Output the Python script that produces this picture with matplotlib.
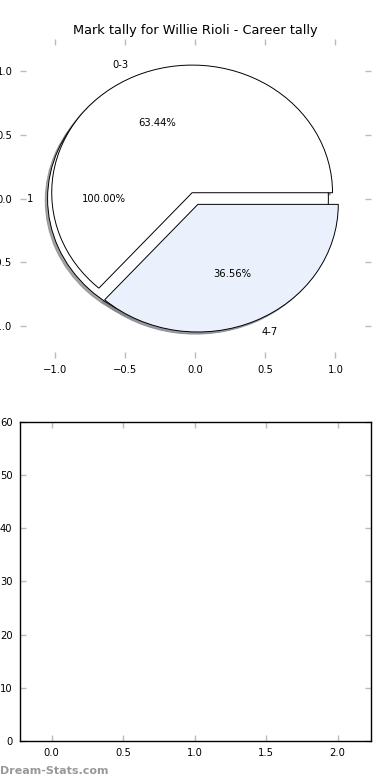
import matplotlib
matplotlib.use("Agg")
import matplotlib.pyplot as plt

title = "Mark tally for Willie Rioli - Career tally"
# outer pie (single wedge)
outer_labels = ["1"]
outer_values = [1]
outer_colors = ["white"]
# mark ranges
mark_labels = ["0-3", "4-7"]
mark_values = [59, 34]
mark_colors = ["white", "#eaf0fc"]

pie_ticks = [-1.0, -0.5, 0.0, 0.5, 1.0]
bar_xticks = [0.0, 0.5, 1.0, 1.5, 2.0]
bar_yticks = [0, 10, 20, 30, 40, 50, 60]

plt.rcParams["font.family"] = "DejaVu Sans"
plt.rcParams["font.size"] = 7.2

fig, (ax1, ax2) = plt.subplots(2, 1, figsize=(3.9, 7.8), dpi=100)
fig.subplots_adjust(left=0.05, right=0.95, bottom=0.05, top=0.95, hspace=0.2)

wedgeprops = {"edgecolor": "black", "linewidth": 0.7}
shadow = {"ox": -0.012, "oy": -0.012, "shade": 0.45, "alpha": 0.8}
ax1.pie(outer_values, labels=outer_labels, colors=outer_colors, explode=[0.05],
        autopct="%1.2f%%", shadow=shadow, wedgeprops=wedgeprops, frame=True)
ax1.pie(mark_values, labels=mark_labels, colors=mark_colors, explode=[0.05, 0.05],
        autopct="%1.2f%%", shadow=shadow, wedgeprops=wedgeprops, frame=True)
ax1.set_aspect("auto")
ax1.set_xlim(-1.25, 1.25)
ax1.set_ylim(-1.25, 1.25)
ax1.set_xticks(pie_ticks)
ax1.set_yticks(pie_ticks)
for s in ax1.spines.values():
    s.set_visible(False)
ax1.set_title(title, fontsize=9.3, pad=3.5)

ax2.set_xlim(-0.225, 2.23)
ax2.set_ylim(0, 60)
ax2.set_xticks(bar_xticks)
ax2.set_yticks(bar_yticks)
for s in ax2.spines.values():
    s.set_linewidth(1.0)

for ax in (ax1, ax2):
    ax.tick_params(direction="in", length=4, width=1, color="#bbbbbb",
                   top=True, right=True, labelsize=7.2, pad=5)

fig.text(0.0, 0.008, "Dream-Stats.com", color="#999999", fontsize=8, fontweight="semibold")

fig.savefig("out.png")
